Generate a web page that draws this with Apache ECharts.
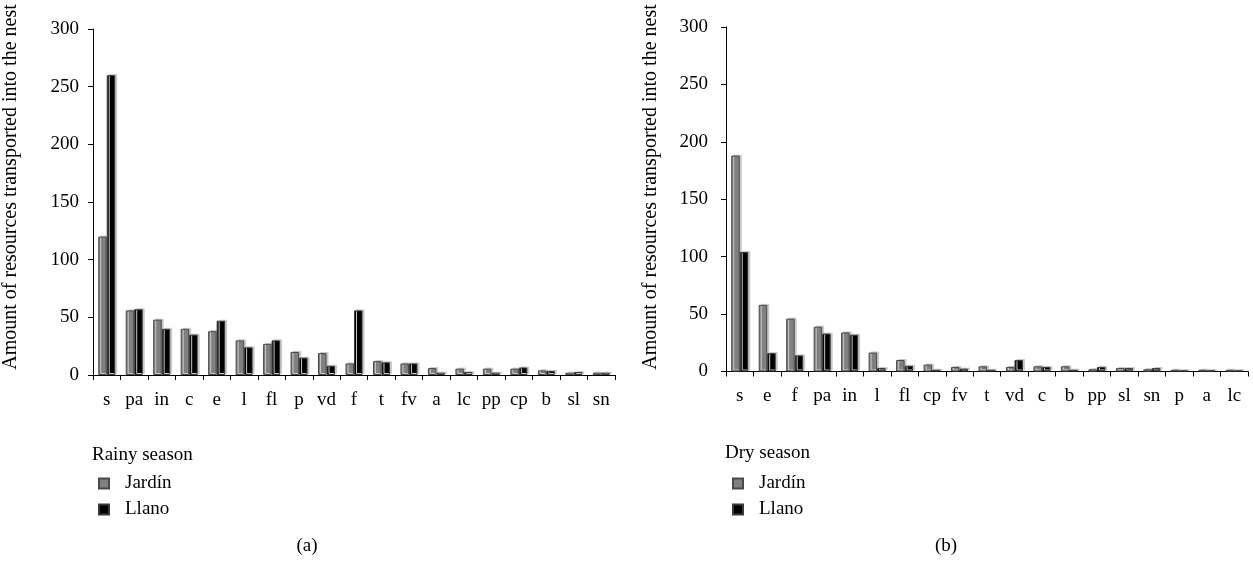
<!DOCTYPE html>
<html>
<head>
<meta charset="utf-8">
<script src="https://cdn.jsdelivr.net/npm/echarts@6/dist/echarts.min.js"></script>
<style>
html,body{margin:0;padding:0;background:#fff;}
#chart{width:1253px;height:562px;}
</style>
</head>
<body>
<div id="chart"></div>
<script>
// ---- data ----
const catsRainy = ['s','pa','in','c','e','l','fl','p','vd','f','t','fv','a','lc','pp','cp','b','sl','sn'];
const rainyJardin = [120,56,48,40,38,30,27,20,19,10,12,10,6,5.5,5.5,5.5,4,2,2];
const rainyLlano  = [260,57,40,35,47,24,30,15,8,56,11,10,2,2.5,2,6.5,3.5,2.5,2];

const catsDry = ['s','e','f','pa','in','l','fl','cp','fv','t','vd','c','b','pp','sl','sn','p','a','lc'];
const dryJardin = [188,58,46,39,34,16.5,10,6,4,4.5,4,4.5,4.5,2,3,2,1.5,1.5,1.5];
const dryLlano  = [104,16,14,33,32,3,5,1.5,2.5,1.5,10,4,1.5,4,3,3,1,1,1];

const yTicks = [0,50,100,150,200,250,300];
const yTitle = 'Amount of resources transported into the nest';
const seriesNames = ['Jardín','Llano'];

// ---- styles ----
const FONT = 'Liberation Serif';
const FS = 19;
const styleJ = {color:'#808080', borderColor:'#4a4a4a', borderWidth:1, shadowColor:'#c8c8c8', shadowOffsetX:2, shadowOffsetY:-1, shadowBlur:0};
const styleL = {color:'#000000', borderColor:'#3a3a3a', borderWidth:1, shadowColor:'#c8c8c8', shadowOffsetX:2, shadowOffsetY:-1, shadowBlur:0};

function xAxis(gi, cats, margin){
  return {
    type:'category', gridIndex:gi, data:cats,
    axisLine:{lineStyle:{color:'#000', width:1}},
    axisTick:{show:true, length:5, lineStyle:{color:'#000'}},
    axisLabel:{color:'#000', fontFamily:FONT, fontSize:FS, margin:margin, interval:0}
  };
}
function yAxis(gi, margin){
  return {
    type:'value', gridIndex:gi, min:yTicks[0], max:yTicks[yTicks.length-1], interval:yTicks[1]-yTicks[0],
    axisLine:{show:true, lineStyle:{color:'#000', width:1}},
    axisTick:{show:true, length:5, lineStyle:{color:'#000'}},
    splitLine:{show:false},
    axisLabel:{color:'#000', fontFamily:FONT, fontSize:FS, margin:margin}
  };
}
function bar(name, xi, data, st){
  return {name:name, type:'bar', xAxisIndex:xi, yAxisIndex:xi, data:data,
    barWidth:8.5, barGap:'0%', itemStyle:st, emphasis:{disabled:true}, animation:false};
}
function legend(left, top){
  return {orient:'vertical', left:left, top:top, itemWidth:10, itemHeight:10, itemGap:7,
    icon:'rect', data:seriesNames, selectedMode:false,
    textStyle:{color:'#000', fontFamily:FONT, fontSize:FS, lineHeight:19, padding:[0,0,0,11]}};
}
function txt(x, y, s, align){
  return {type:'text', x:x, y:y, silent:true,
    style:{text:s, fill:'#000', font: FS + 'px "' + FONT + '"', textAlign:align||'left', textVerticalAlign:'middle'}};
}
function vtitle(x){
  return {type:'text', x:x, y:187, rotation:Math.PI/2, silent:true,
    style:{text:yTitle, fill:'#000', font: '20px "' + FONT + '"', textAlign:'center', textVerticalAlign:'middle'}};
}

const chart = echarts.init(document.getElementById('chart'), null, {renderer:'canvas'});
chart.setOption({
  animation:false,
  backgroundColor:'#fff',
  grid:[
    {left:93, right:638, top:29, bottom:187, containLabel:false},
    {left:726, right:5, top:27, bottom:190.5, containLabel:false}
  ],
  xAxis:[xAxis(0, catsRainy, 16), xAxis(1, catsDry, 15)],
  yAxis:[yAxis(0, 14), yAxis(1, 18)],
  legend:[legend(93, 469), legend(727, 469)],
  series:[
    bar(seriesNames[0], 0, rainyJardin, styleJ),
    bar(seriesNames[1], 0, rainyLlano, styleL),
    bar(seriesNames[0], 1, dryJardin, styleJ),
    bar(seriesNames[1], 1, dryLlano, styleL)
  ],
  graphic:[
    vtitle(11),
    vtitle(651),
    txt(92, 455, 'Rainy season'),
    txt(725, 453, 'Dry season'),
    txt(307, 546, '(a)', 'center'),
    txt(946, 546, '(b)', 'center')
  ]
});
</script>
</body>
</html>
